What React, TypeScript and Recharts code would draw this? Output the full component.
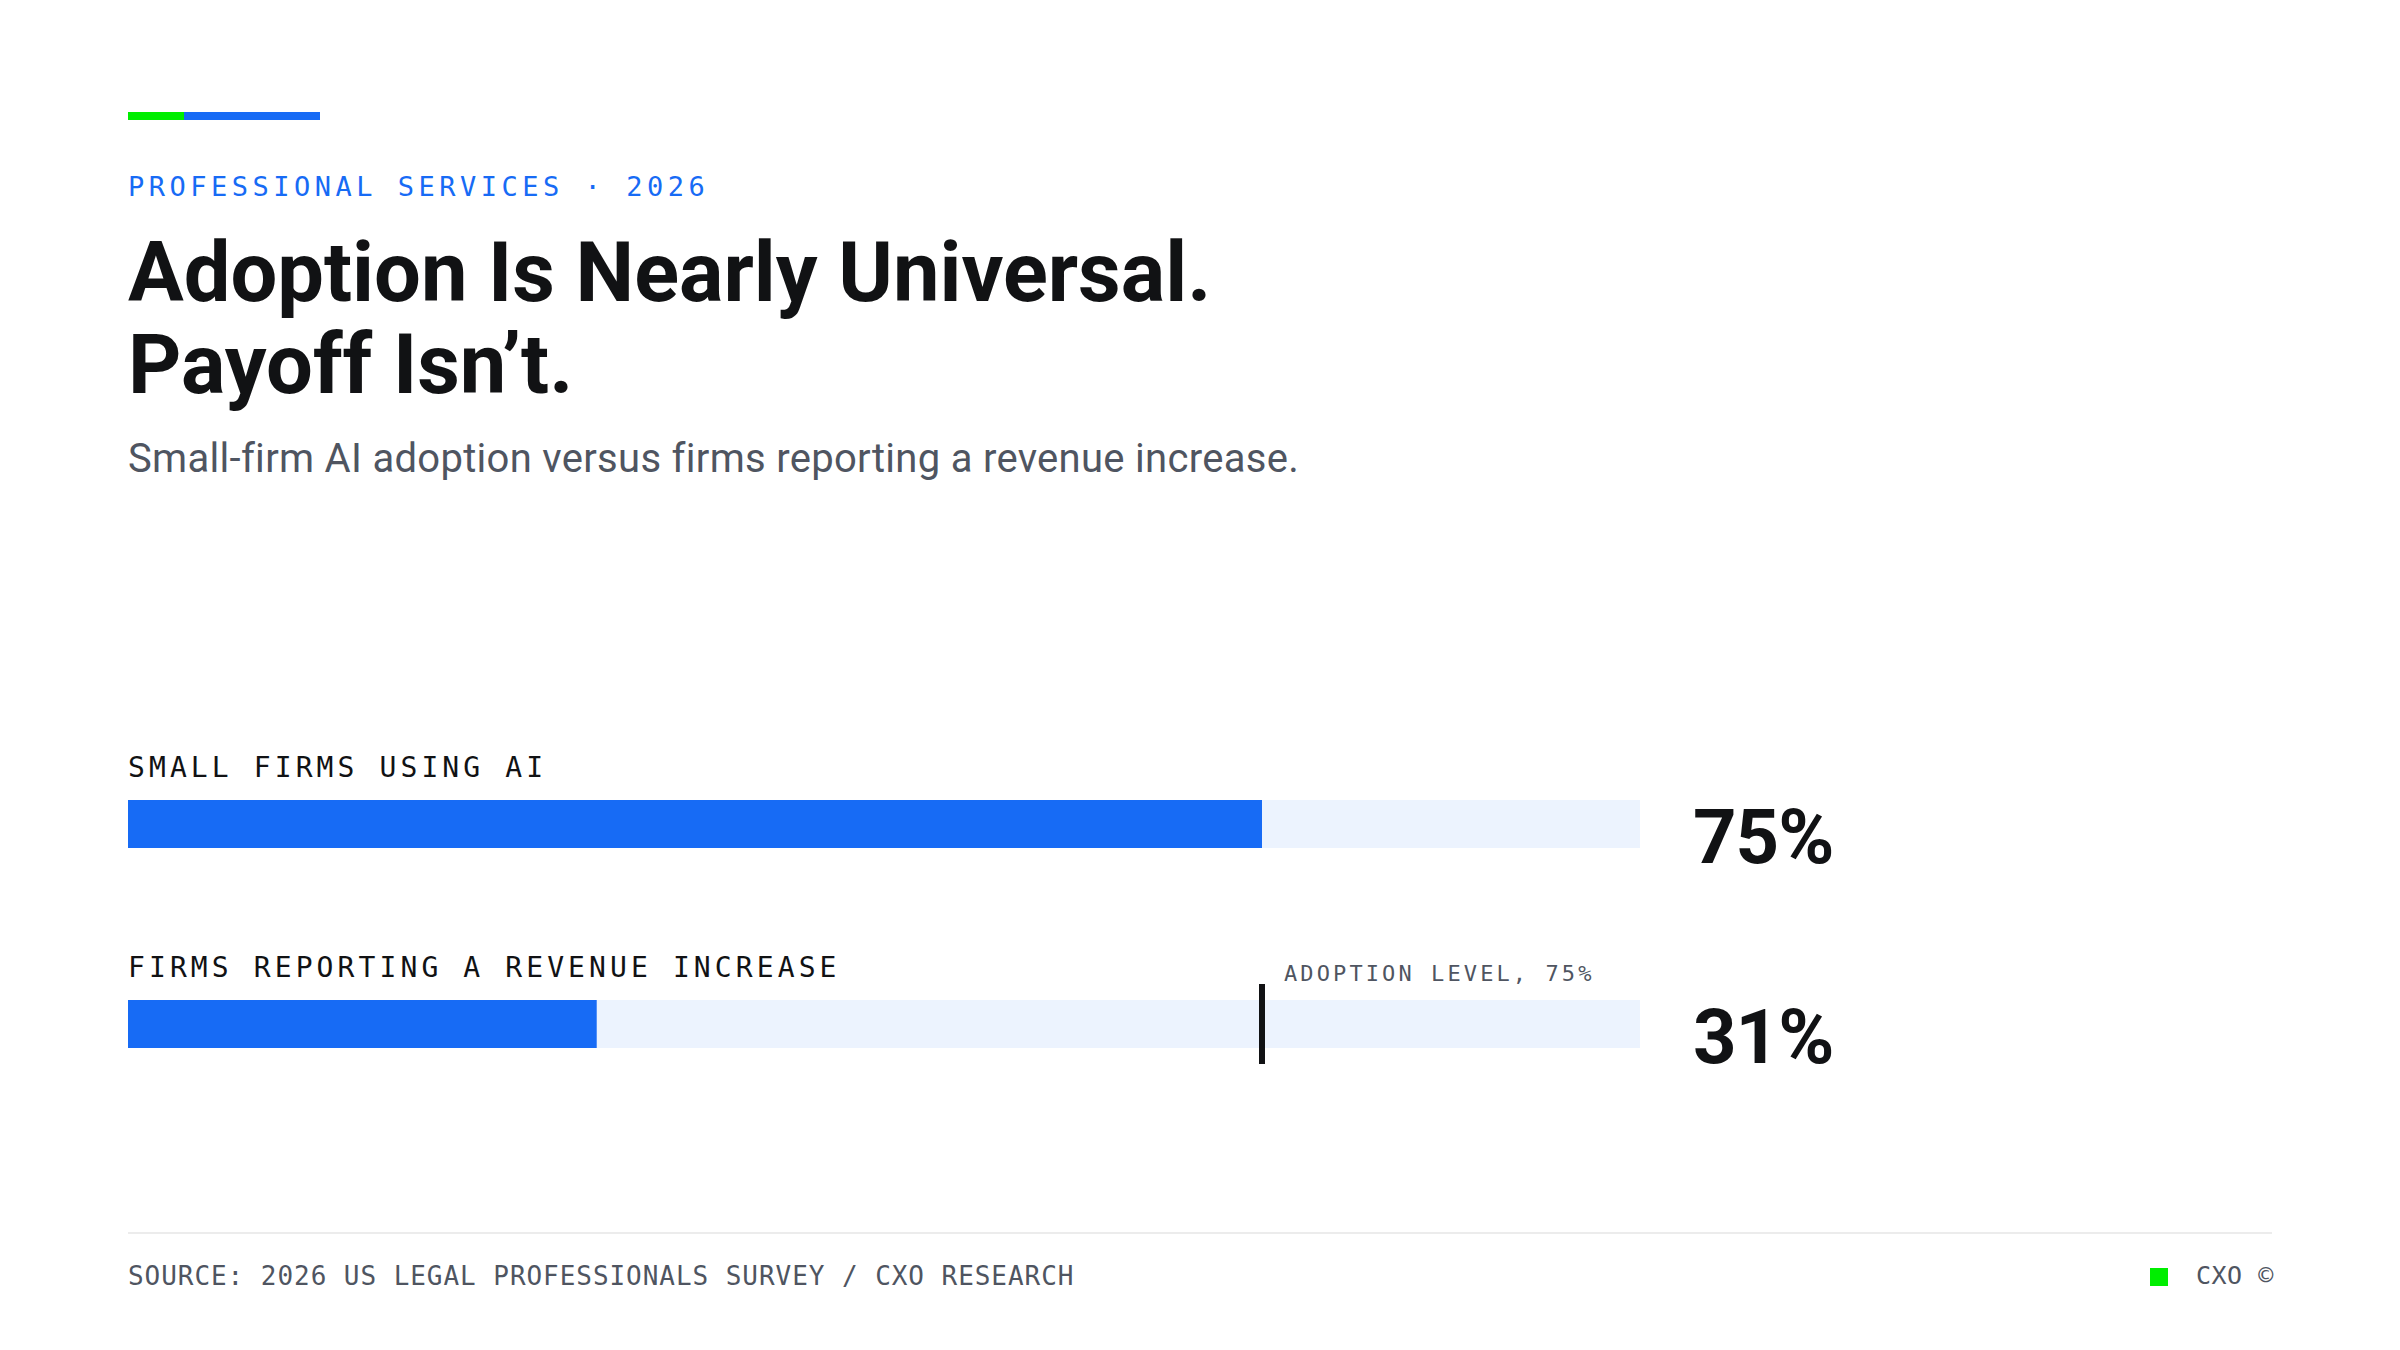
import React from 'react';
import { BarChart, Bar, XAxis, YAxis, LabelList, ReferenceLine } from 'recharts';

// Chart values
const categories = ['SMALL FIRMS USING AI', 'FIRMS REPORTING A REVENUE INCREASE'];
const shares = [75, 31];
const adoptionLevel = 75;
const adoptionLabel = 'ADOPTION LEVEL, 75%';

const BLUE = '#176bf5';
const TRACK = '#ecf3fe';
const INK = '#111214';
const GRAY = '#4f5561';
const GREEN = '#00ee00';
const MONO = '"DejaVu Sans Mono", "Liberation Mono", monospace';
const SANS = 'Roboto, "Noto Sans", sans-serif';

const data = categories.map((name, i) => ({ name, value: shares[i] }));

const ValueTick = (props: any) => {
  const { x, y, payload } = props;
  const idx = categories.indexOf(payload.value);
  return (
    <text
      x={x + 53}
      y={y + 39}
      fill={INK}
      style={{ fontFamily: SANS, fontWeight: 700, fontSize: 76, letterSpacing: '-1px' }}
    >
      {`${shares[idx]}%`}
    </text>
  );
};

const RowLabel = (props: any) => {
  const { x, y, value } = props;
  return (
    <text
      x={x}
      y={y - 23}
      fill={INK}
      style={{ fontFamily: MONO, fontSize: 28, letterSpacing: '4.1px' }}
    >
      {value}
    </text>
  );
};

// marker only spans the second row, like the reference
const AdoptionMarker = (props: any) => {
  const { x1, y1, y2 } = props;
  if (x1 == null || y1 == null || y2 == null) return null;
  const top = Math.min(y1, y2);
  const bottom = Math.max(y1, y2);
  const mid = top + (bottom - top) * 0.75;
  return (
    <g>
      <line x1={x1} x2={x1} y1={mid - 40} y2={mid + 40} stroke={INK} strokeWidth={6} />
      <text
        x={x1 + 22}
        y={mid - 43}
        fill={GRAY}
        style={{ fontFamily: MONO, fontSize: 22, letterSpacing: '3.1px' }}
      >
        {adoptionLabel}
      </text>
    </g>
  );
};

export default function App() {
  return (
    <div
      style={{
        position: 'absolute',
        left: 0,
        top: 0,
        width: 2400,
        height: 1350,
        background: '#ffffff',
        overflow: 'hidden',
      }}
    >
      {/* accent bar */}
      <div style={{ position: 'absolute', left: 128, top: 112, width: 56, height: 8, background: GREEN }} />
      <div style={{ position: 'absolute', left: 184, top: 112, width: 136, height: 8, background: BLUE }} />

      <div
        style={{
          position: 'absolute',
          left: 128,
          top: 173,
          fontFamily: MONO,
          fontSize: 27,
          lineHeight: 1,
          letterSpacing: '4.5px',
          color: BLUE,
          whiteSpace: 'nowrap',
        }}
      >
        PROFESSIONAL SERVICES · 2026
      </div>

      <div
        style={{
          position: 'absolute',
          left: 128,
          top: 227,
          fontFamily: SANS,
          fontWeight: 700,
          fontSize: 83,
          lineHeight: '92px',
          color: INK,
          whiteSpace: 'nowrap',
        }}
      >
        Adoption Is Nearly Universal.
        <br />
        Payoff Isn’t.
      </div>

      <div
        style={{
          position: 'absolute',
          left: 128,
          top: 439,
          fontFamily: SANS,
          fontSize: 40,
          lineHeight: 1,
          letterSpacing: '0.3px',
          color: GRAY,
          whiteSpace: 'nowrap',
        }}
      >
        Small-firm AI adoption versus firms reporting a revenue increase.
      </div>

      <div style={{ position: 'absolute', left: 128, top: 700 }}>
        <BarChart
          width={2144}
          height={424}
          layout="vertical"
          data={data}
          margin={{ top: 24, right: 0, bottom: 0, left: 0 }}
          barSize={48}
        >
          <XAxis type="number" domain={[0, 100]} hide />
          <YAxis
            type="category"
            dataKey="name"
            orientation="right"
            width={632}
            axisLine={false}
            tickLine={false}
            tickSize={0}
            tickMargin={0}
            interval={0}
            tick={ValueTick}
          />
          <Bar dataKey="value" fill={BLUE} background={{ fill: TRACK }} isAnimationActive={false}>
            <LabelList dataKey="name" content={RowLabel} />
          </Bar>
          <ReferenceLine x={adoptionLevel} shape={AdoptionMarker} />
        </BarChart>
      </div>

      {/* footer */}
      <div style={{ position: 'absolute', left: 128, top: 1232, width: 2144, height: 2, background: '#ececec' }} />
      <div
        style={{
          position: 'absolute',
          left: 128,
          top: 1263,
          fontFamily: MONO,
          fontSize: 26,
          lineHeight: 1,
          letterSpacing: '0.95px',
          color: GRAY,
          whiteSpace: 'nowrap',
        }}
      >
        SOURCE: 2026 US LEGAL PROFESSIONALS SURVEY / CXO RESEARCH
      </div>
      <div style={{ position: 'absolute', left: 2150, top: 1268, width: 18, height: 18, background: GREEN }} />
      <div
        style={{
          position: 'absolute',
          left: 2196,
          top: 1263,
          fontFamily: MONO,
          fontSize: 25,
          lineHeight: 1,
          letterSpacing: '0.5px',
          color: GRAY,
          whiteSpace: 'nowrap',
        }}
      >
        CXO ©
      </div>
    </div>
  );
}
